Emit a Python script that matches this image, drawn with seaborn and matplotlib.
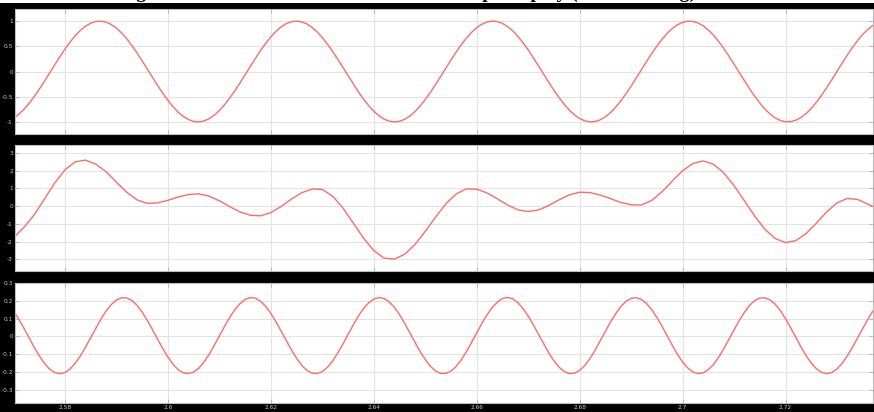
import matplotlib
matplotlib.use("Agg")
import matplotlib.pyplot as plt
from matplotlib.patches import Rectangle
import seaborn as sns

# sample times (s), fine grid for the two pure tones
time_fine = [2.570, 2.571, 2.572, 2.573, 2.574, 2.575, 2.576, 2.577, 2.578, 2.579,
             2.580, 2.581, 2.582, 2.583, 2.584, 2.585, 2.586, 2.587, 2.588, 2.589,
             2.590, 2.591, 2.592, 2.593, 2.594, 2.595, 2.596, 2.597, 2.598, 2.599,
             2.600, 2.601, 2.602, 2.603, 2.604, 2.605, 2.606, 2.607, 2.608, 2.609,
             2.610, 2.611, 2.612, 2.613, 2.614, 2.615, 2.616, 2.617, 2.618, 2.619,
             2.620, 2.621, 2.622, 2.623, 2.624, 2.625, 2.626, 2.627, 2.628, 2.629,
             2.630, 2.631, 2.632, 2.633, 2.634, 2.635, 2.636, 2.637, 2.638, 2.639,
             2.640, 2.641, 2.642, 2.643, 2.644, 2.645, 2.646, 2.647, 2.648, 2.649,
             2.650, 2.651, 2.652, 2.653, 2.654, 2.655, 2.656, 2.657, 2.658, 2.659,
             2.660, 2.661, 2.662, 2.663, 2.664, 2.665, 2.666, 2.667, 2.668, 2.669,
             2.670, 2.671, 2.672, 2.673, 2.674, 2.675, 2.676, 2.677, 2.678, 2.679,
             2.680, 2.681, 2.682, 2.683, 2.684, 2.685, 2.686, 2.687, 2.688, 2.689,
             2.690, 2.691, 2.692, 2.693, 2.694, 2.695, 2.696, 2.697, 2.698, 2.699,
             2.700, 2.701, 2.702, 2.703, 2.704, 2.705, 2.706, 2.707, 2.708, 2.709,
             2.710, 2.711, 2.712, 2.713, 2.714, 2.715, 2.716, 2.717, 2.718, 2.719,
             2.720, 2.721, 2.722, 2.723, 2.724, 2.725, 2.726, 2.727, 2.728, 2.729,
             2.730, 2.731, 2.732, 2.733, 2.734, 2.735, 2.736, 2.737, 2.738]

# coarse grid for the mixed signal
time_mid = [2.570, 2.572, 2.574, 2.576, 2.578, 2.580, 2.582, 2.584, 2.586, 2.588,
            2.590, 2.592, 2.594, 2.596, 2.598, 2.600, 2.602, 2.604, 2.606, 2.608,
            2.610, 2.612, 2.614, 2.616, 2.618, 2.620, 2.622, 2.624, 2.626, 2.628,
            2.630, 2.632, 2.634, 2.636, 2.638, 2.640, 2.642, 2.644, 2.646, 2.648,
            2.650, 2.652, 2.654, 2.656, 2.658, 2.660, 2.662, 2.664, 2.666, 2.668,
            2.670, 2.672, 2.674, 2.676, 2.678, 2.680, 2.682, 2.684, 2.686, 2.688,
            2.690, 2.692, 2.694, 2.696, 2.698, 2.700, 2.702, 2.704, 2.706, 2.708,
            2.710, 2.712, 2.714, 2.716, 2.718, 2.720, 2.722, 2.724, 2.726, 2.728,
            2.730, 2.732, 2.734, 2.736, 2.738]

# top scope trace
signal_top = [-0.926, -0.852, -0.755, -0.638, -0.503, -0.355, -0.197, -0.034, 0.131, 0.291,
              0.444, 0.585, 0.710, 0.815, 0.899, 0.959, 0.992, 0.999, 0.979, 0.932,
              0.861, 0.766, 0.650, 0.517, 0.370, 0.213, 0.050, -0.115, -0.276, -0.429,
              -0.571, -0.698, -0.806, -0.892, -0.954, -0.990, -1.000, -0.982, -0.938, -0.869,
              -0.776, -0.662, -0.530, -0.385, -0.228, -0.066, 0.098, 0.260, 0.415, 0.558,
              0.686, 0.796, 0.885, 0.949, 0.988, 1.000, 0.985, 0.944, 0.877, 0.786,
              0.674, 0.544, 0.400, 0.244, 0.082, -0.082, -0.244, -0.400, -0.545, -0.674,
              -0.786, -0.877, -0.944, -0.985, -1.000, -0.988, -0.949, -0.884, -0.796, -0.686,
              -0.558, -0.414, -0.260, -0.098, 0.066, 0.229, 0.385, 0.531, 0.663, 0.776,
              0.869, 0.938, 0.982, 1.000, 0.990, 0.954, 0.892, 0.806, 0.698, 0.571,
              0.429, 0.275, 0.114, -0.050, -0.213, -0.370, -0.517, -0.651, -0.766, -0.861,
              -0.933, -0.979, -0.999, -0.992, -0.959, -0.899, -0.815, -0.709, -0.584, -0.443,
              -0.291, -0.130, 0.034, 0.197, 0.355, 0.503, 0.638, 0.756, 0.853, 0.927,
              0.976, 0.998, 0.994, 0.963, 0.906, 0.824, 0.721, 0.597, 0.458, 0.306,
              0.146, -0.018, -0.181, -0.340, -0.489, -0.625, -0.745, -0.844, -0.921, -0.972,
              -0.997, -0.996, -0.967, -0.913, -0.833, -0.732, -0.610, -0.472, -0.321, -0.162,
              0.002, 0.165, 0.325, 0.475, 0.613, 0.734, 0.835, 0.914, 0.968]

# middle scope trace
signal_mid = [-1.78, -1.20, -0.50, 0.40, 1.30, 2.05, 2.50, 2.60, 2.37, 1.94,
              1.36, 0.79, 0.36, 0.16, 0.19, 0.33, 0.52, 0.66, 0.70, 0.57,
              0.31, -0.02, -0.32, -0.51, -0.54, -0.36, -0.02, 0.40, 0.76, 0.97,
              0.95, 0.57, -0.10, -0.94, -1.79, -2.50, -2.92, -2.98, -2.71, -2.16,
              -1.42, -0.62, 0.13, 0.69, 0.98, 0.96, 0.75, 0.42, 0.07, -0.20,
              -0.30, -0.21, 0.04, 0.36, 0.64, 0.79, 0.77, 0.63, 0.43, 0.21,
              0.08, 0.07, 0.32, 0.81, 1.42, 2.00, 2.41, 2.55, 2.37, 1.88,
              1.16, 0.31, -0.55, -1.30, -1.82, -2.05, -1.94, -1.54, -0.95, -0.32,
              0.19, 0.44, 0.38, 0.12, -0.15]

# bottom scope trace
signal_bot = [0.144, 0.099, 0.048, -0.006, -0.059, -0.108, -0.150, -0.182, -0.202, -0.209,
              -0.202, -0.182, -0.150, -0.109, -0.060, -0.007, 0.047, 0.098, 0.143, 0.179,
              0.205, 0.217, 0.216, 0.202, 0.175, 0.137, 0.091, 0.039, -0.015, -0.067,
              -0.115, -0.156, -0.186, -0.204, -0.208, -0.200, -0.178, -0.144, -0.101, -0.051,
              0.002, 0.056, 0.106, 0.150, 0.184, 0.208, 0.218, 0.215, 0.198, 0.169,
              0.130, 0.083, 0.030, -0.023, -0.075, -0.122, -0.161, -0.190, -0.205, -0.208,
              -0.197, -0.173, -0.138, -0.093, -0.043, 0.011, 0.064, 0.114, 0.156, 0.189,
              0.210, 0.218, 0.213, 0.194, 0.164, 0.123, 0.074, 0.022, -0.032, -0.084,
              -0.129, -0.167, -0.193, -0.207, -0.207, -0.194, -0.168, -0.131, -0.085, -0.034,
              0.020, 0.073, 0.121, 0.162, 0.193, 0.213, 0.219, 0.211, 0.190, 0.157,
              0.115, 0.066, 0.013, -0.041, -0.092, -0.136, -0.172, -0.196, -0.208, -0.206,
              -0.190, -0.162, -0.124, -0.077, -0.025, 0.028, 0.081, 0.128, 0.168, 0.197,
              0.214, 0.218, 0.208, 0.185, 0.151, 0.107, 0.058, 0.004, -0.049, -0.099,
              -0.143, -0.176, -0.199, -0.208, -0.204, -0.186, -0.157, -0.117, -0.069, -0.017,
              0.037, 0.089, 0.135, 0.174, 0.201, 0.216, 0.217, 0.205, 0.181, 0.145,
              0.100, 0.049, -0.005, -0.058, -0.107, -0.149, -0.181, -0.201, -0.209, -0.202,
              -0.182, -0.151, -0.109, -0.061, -0.008, 0.046, 0.097, 0.143, 0.179]

x_ticks = [2.58, 2.60, 2.62, 2.64, 2.66, 2.68, 2.70, 2.72]
x_labels = ["2.58", "2.6", "2.62", "2.64", "2.66", "2.68", "2.7", "2.72"]
top_ticks = [-1, -0.5, 0, 0.5, 1]
top_labels = ["-1", "-0.5", "0", "0.5", "1"]
mid_ticks = [-3, -2, -1, 0, 1, 2, 3]
mid_labels = ["-3", "-2", "-1", "0", "1", "2", "3"]
bot_ticks = [-0.3, -0.2, -0.1, 0, 0.1, 0.2, 0.3]
bot_labels = ["-0.3", "-0.2", "-0.1", "0", "0.1", "0.2", "0.3"]

title = "Figure 4.9: Simulated waveforms on the scope display (after filtering)"

sns.set_style("whitegrid")
line_color = "#ff6b6b"

fig = plt.figure(figsize=(8.74, 4.12), dpi=100, facecolor="black")
# thin white strip at the very top, where the cropped title sits
fig.patches.append(Rectangle((0, 1 - 3 / 412), 1, 3 / 412, transform=fig.transFigure,
                             facecolor="white", edgecolor="none", zorder=0))
fig.text(0.466, 1 + 2.5 / 412, title, ha="center", va="baseline",
         family="Liberation Serif", fontweight="bold", fontsize=14, color="black")

left, width = 15 / 874, 858 / 874
panels = [
    (1 - 134 / 412, 125 / 412, time_fine, signal_top, (-1.24, 1.24), top_ticks, top_labels),
    (1 - 271 / 412, 126 / 412, time_mid, signal_mid, (-3.65, 3.45), mid_ticks, mid_labels),
    (1 - 403 / 412, 120 / 412, time_fine, signal_bot, (-0.373, 0.3), bot_ticks, bot_labels),
]

for i, (bottom, height, t, values, ylim, yt, yl) in enumerate(panels):
    ax = fig.add_axes([left, bottom, width, height])
    ax.set_facecolor("white")
    sns.lineplot(x=t, y=values, ax=ax, color=line_color, linewidth=1.0)
    ax.set_xlim(2.5703, 2.737)
    ax.set_ylim(*ylim)
    ax.set_yticks(yt)
    ax.set_yticklabels(yl)
    ax.set_xticks(x_ticks)
    if i == 2:
        ax.set_xticklabels(x_labels)
    else:
        ax.set_xticklabels([])
    ax.grid(True, color="#e3e3e3", linewidth=0.8)
    ax.tick_params(axis="both", direction="in", length=3, width=0.6, color="#b0b0b0",
                   labelsize=4.2, labelcolor="#c8c8c8", pad=1.5,
                   left=True, right=True, bottom=True, top=True)
    for s in ax.spines.values():
        s.set_color("#bdbdbd")
        s.set_linewidth(0.8)

fig.savefig("out.png", dpi=100, facecolor=fig.get_facecolor())
